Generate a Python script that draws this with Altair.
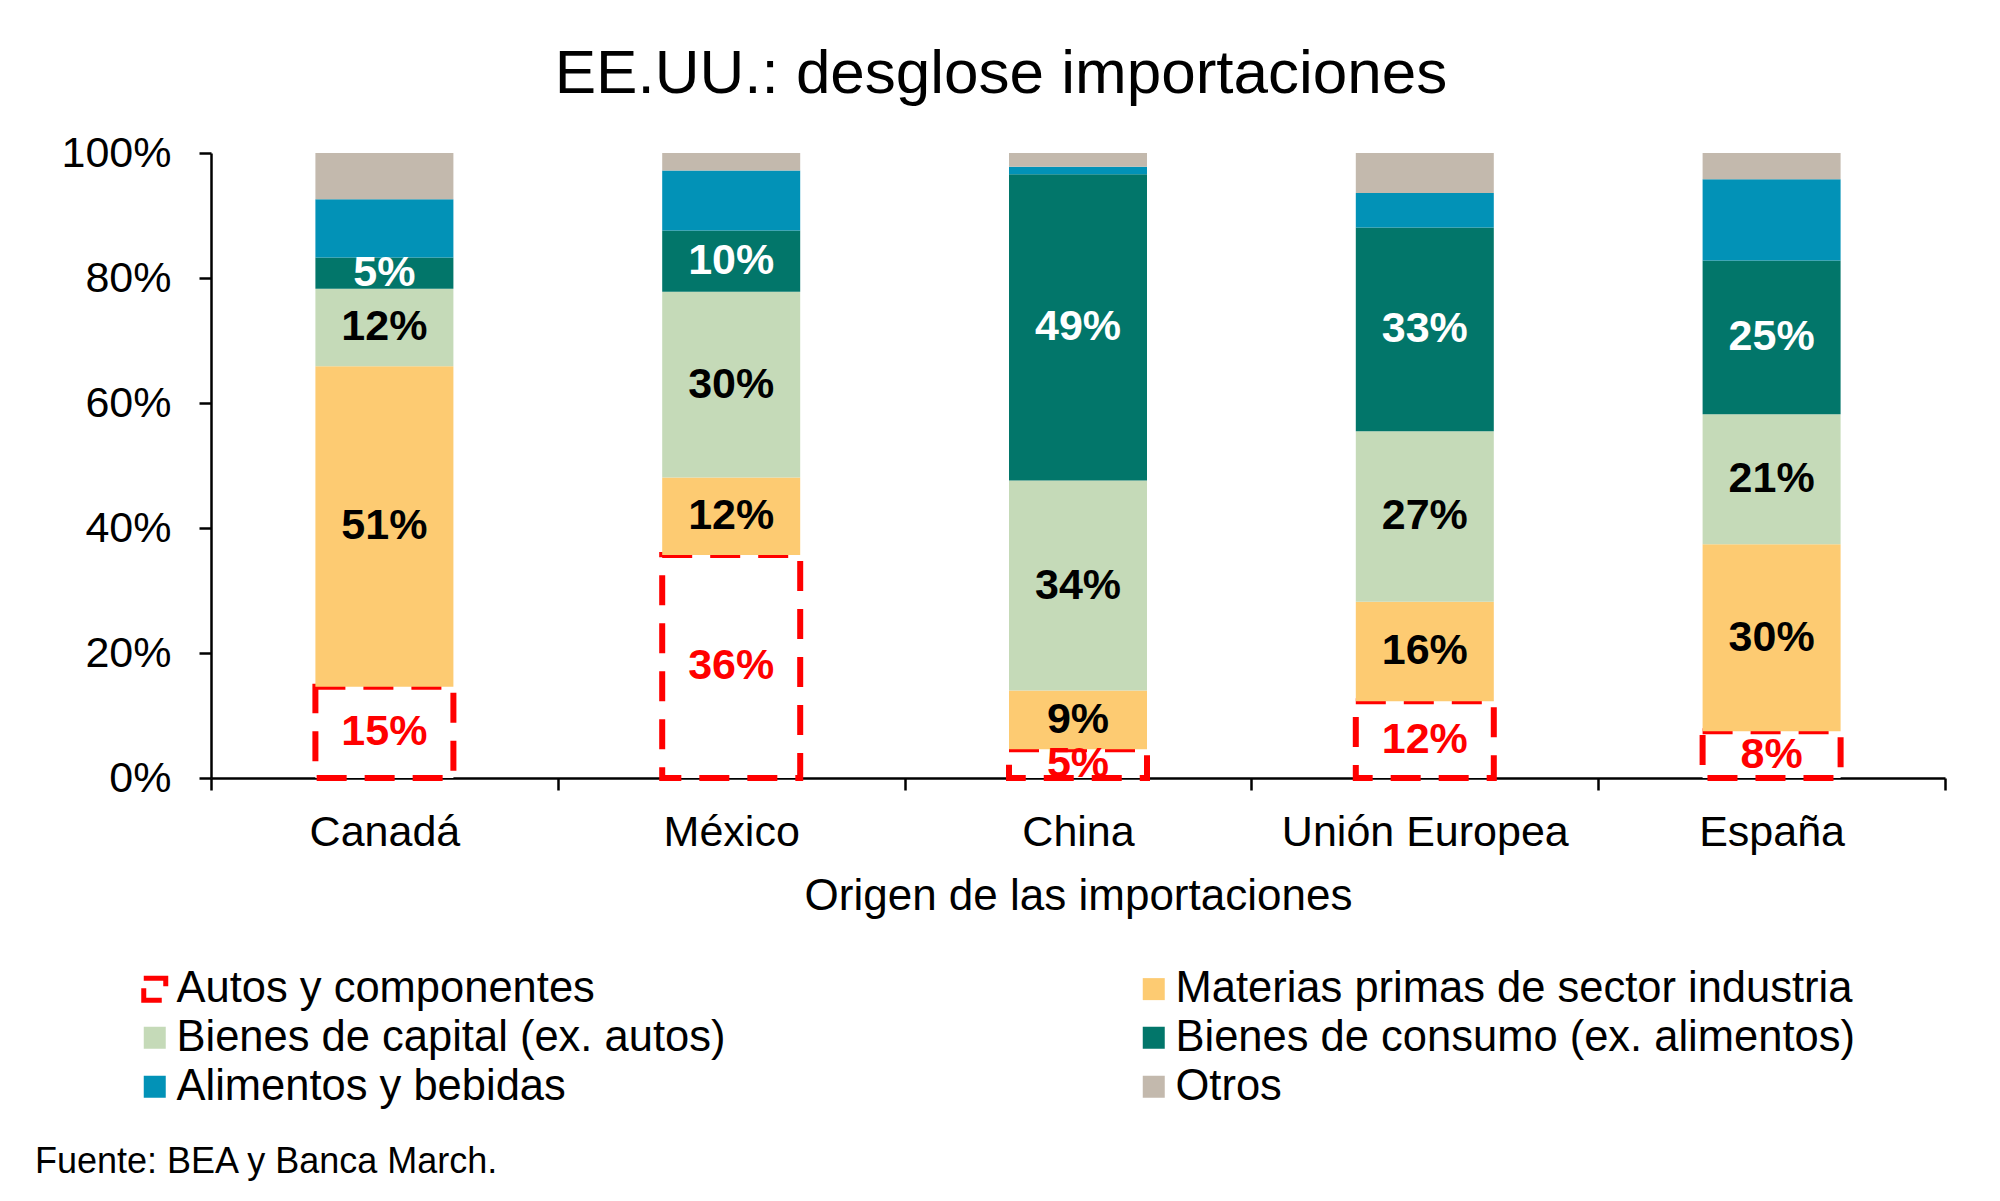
import altair as alt
import pandas as pd

# ---- data (percent of imports) ----
paises = ["Canadá", "México", "China", "Unión Europea", "España"]
categorias = [
    "Autos y componentes",
    "Materias primas de sector industria",
    "Bienes de capital (ex. autos)",
    "Bienes de consumo (ex. alimentos)",
    "Alimentos y bebidas",
    "Otros",
]
autos = [14.6, 35.7, 4.6, 12.3, 7.5]
materias = [51.3, 12.4, 9.4, 15.9, 29.9]
capital = [12.4, 29.7, 33.6, 27.3, 20.8]
consumo = [5.0, 9.8, 49.0, 32.6, 24.6]
alimentos = [9.3, 9.6, 1.2, 5.5, 13.0]
otros = [7.4, 2.8, 2.2, 6.4, 4.2]

titulo = "EE.UU.: desglose importaciones"
eje_x = "Origen de las importaciones"
fuente = "Fuente: BEA y Banca March."

fills = ["#FFFFFF", "#FDCB72", "#C5DAB8", "#02766A", "#0292B7", "#C3B9AD"]
strokes = ["#FF0000", "transparent", "transparent", "transparent", "transparent", "transparent"]
dashes = [[30, 18], [1, 0], [1, 0], [1, 0], [1, 0], [1, 0]]
label_colors = ["#FF0000", "#000000", "#000000", "#FFFFFF", "#FFFFFF", "#FFFFFF"]

series = [autos, materias, capital, consumo, alimentos, otros]
rows = []
for ci, (cat, vals) in enumerate(zip(categorias, series)):
    for p, v in zip(paises, vals):
        rows.append({"pais": p, "categoria": cat, "orden": ci, "valor": v})
df = pd.DataFrame(rows)

FONT = "Liberation Sans"

x_enc = alt.X(
    "pais:N",
    sort=paises,
    scale=alt.Scale(paddingInner=0, paddingOuter=0),
    axis=alt.Axis(
        title=eje_x,
        labelAngle=0,
        labelFontSize=43,
        labelColor="#000000",
        labelPadding=21,
        labelLimit=1000,
        titleFontSize=44,
        titleFontWeight="normal",
        titleColor="#000000",
        titlePadding=20,
        tickBand="extent",
        tickSize=12,
        tickWidth=2.5,
        tickColor="#000000",
        domainColor="#000000",
        domainWidth=2.5,
    ),
)

legend_params = dict(
    title=None,
    orient="none",
    legendX=-78,
    legendY=814,
    columns=2,
    direction="horizontal",
    columnPadding=406,
    rowPadding=4,
    symbolType="square",
    symbolSize=484,
    symbolStrokeWidth=5,
    labelFontSize=43.5,
    labelColor="#000000",
    labelLimit=1200,
    labelOffset=0,
    padding=0,
)

bars = alt.Chart(df).mark_bar(size=138, strokeWidth=6).encode(
    x=x_enc,
    y=alt.Y(
        "valor:Q",
        stack="zero",
        scale=alt.Scale(domain=[0, 100], nice=False),
        axis=alt.Axis(
            title=None,
            values=[0, 20, 40, 60, 80, 100],
            labelExpr="datum.value + '%'",
            labelFontSize=43,
            labelColor="#000000",
            labelPadding=28,
            tickSize=12,
            tickWidth=2.5,
            tickColor="#000000",
            domainColor="#000000",
            domainWidth=2.5,
            grid=False,
        ),
    ),
    fill=alt.Fill("categoria:N", scale=alt.Scale(domain=categorias, range=fills),
                  legend=alt.Legend(**legend_params)),
    stroke=alt.Stroke("categoria:N", scale=alt.Scale(domain=categorias, range=strokes),
                      legend=alt.Legend(**legend_params)),
    strokeDash=alt.StrokeDash("categoria:N", scale=alt.Scale(domain=categorias, range=dashes),
                              legend=alt.Legend(**legend_params)),
    order=alt.Order("orden:Q", sort="ascending"),
)

labels = (
    alt.Chart(df)
    .transform_stack(stack="valor", groupby=["pais"], as_=["y0", "y1"],
                     sort=[alt.SortField("orden", order="ascending")])
    .transform_calculate(mid="(datum.y0 + datum.y1) / 2")
    .transform_filter("datum.orden < 4")
    .transform_calculate(txt="format(datum.valor, '.0f') + '%'")
    .mark_text(fontSize=43, fontWeight="bold", baseline="middle", align="center")
    .encode(
        x=alt.X("pais:N", sort=paises),
        y=alt.Y("mid:Q"),
        text=alt.Text("txt:N"),
        color=alt.Color("categoria:N", scale=alt.Scale(domain=categorias, range=label_colors),
                        legend=None),
    )
)

source = alt.Chart(pd.DataFrame({"t": [fuente]})).mark_text(
    align="left", baseline="alphabetic", fontSize=36, color="#000000"
).encode(text="t:N", x=alt.value(-176), y=alt.value(1020))

chart = (
    alt.layer(bars, labels, source)
    .properties(
        width=1734,
        height=625,
        autosize=alt.AutoSizeParams(type="none"),
        padding={"left": 203, "top": 145, "right": 40, "bottom": 420},
        title=alt.TitleParams(
            titulo, fontSize=62, fontWeight="normal", color="#000000",
            anchor="middle", dx=-77, offset=26,
        ),
    )
    .configure(font=FONT)
    .configure_view(stroke=None)
)

chart.save("out.html", embed_options={"renderer": "svg", "actions": False})
